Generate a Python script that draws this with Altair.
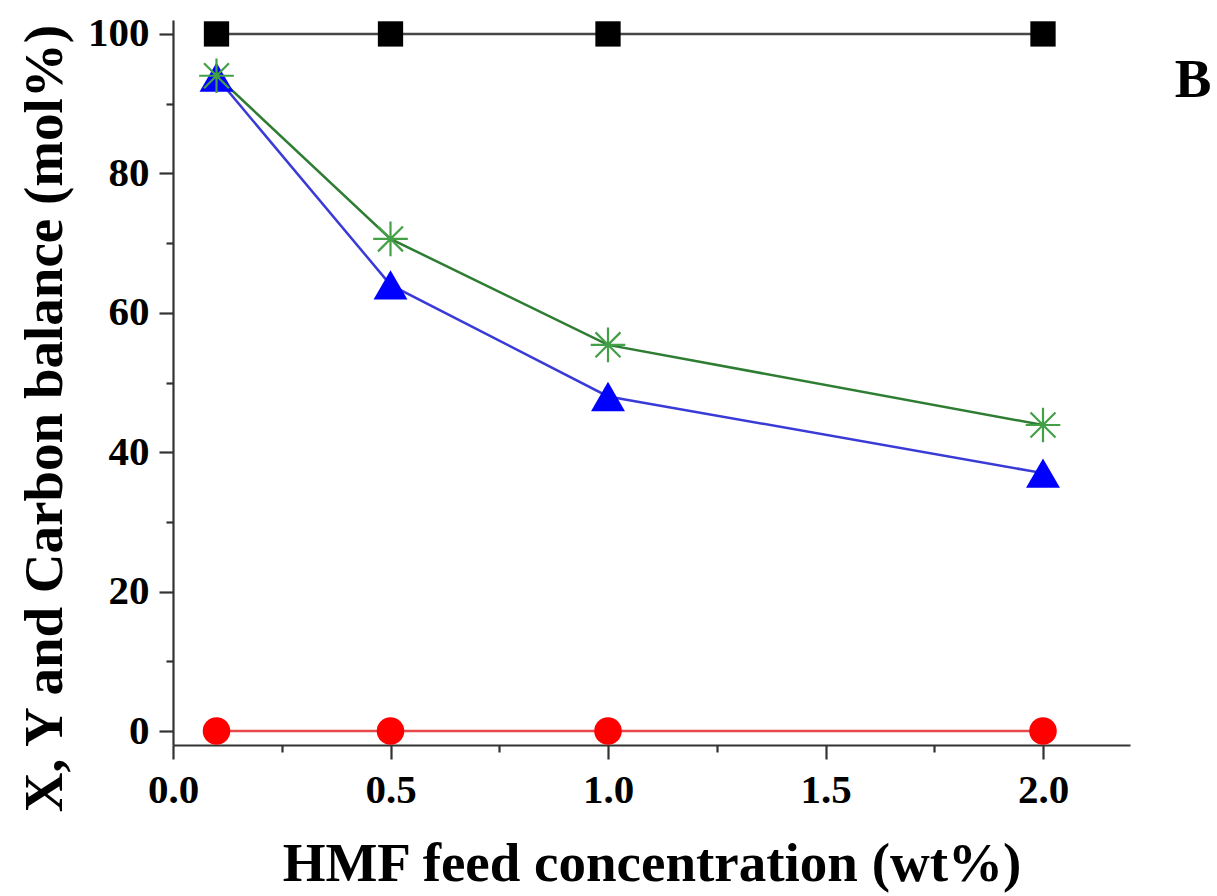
import altair as alt
import pandas as pd

# ---- data ----
feed = [0.1, 0.5, 1.0, 2.0]
carbon_balance = [100, 100, 100, 100]          # black squares
red_series = [0, 0, 0, 0]                      # red circles
blue_series = [93.8, 64.0, 48.0, 37.0]         # blue triangles
green_series = [94.0, 70.6, 55.4, 43.9]        # green asterisks

x_tick_values = [0, 0.25, 0.5, 0.75, 1.0, 1.25, 1.5, 1.75, 2.0]
y_tick_values = [0, 10, 20, 30, 40, 50, 60, 70, 80, 90, 100]

FONT = "Liberation Serif"

def frame(values):
    return pd.DataFrame({"x": feed, "y": values})

x_enc = alt.X(
    "x:Q",
    scale=alt.Scale(domain=[0, 2.2], nice=False, zero=False),
    axis=alt.Axis(
        title="HMF feed concentration (wt%)",
        values=x_tick_values,
        labelExpr="datum.value % 0.5 === 0 ? format(datum.value, '.1f') : ''",
        tickSize={"condition": {"test": "datum.value % 0.5 === 0", "value": 14}, "value": 7},
        labelPadding=11,
        titlePadding=27,
        grid=False,
    ),
)
y_enc = alt.Y(
    "y:Q",
    scale=alt.Scale(domain=[-2, 102], nice=False, zero=False),
    axis=alt.Axis(
        title="X, Y and Carbon balance (mol%)",
        values=y_tick_values,
        labelExpr="datum.value % 20 === 0 ? datum.label : ''",
        tickSize={"condition": {"test": "datum.value % 20 === 0", "value": 14}, "value": 7},
        labelPadding=10,
        titlePadding=14,
        titleY=398,
        grid=False,
    ),
)

def series(values, line_color, point_color, shape, size, filled=True, stroke_width=1):
    base = alt.Chart(frame(values)).encode(x=x_enc, y=y_enc)
    line = base.mark_line(color=line_color, strokeWidth=2.5)
    pts = base.mark_point(
        shape=shape, size=size, filled=filled, color=point_color,
        opacity=1, strokeWidth=stroke_width,
    )
    return line, pts

black_line, black_pts = series(carbon_balance, "#474747", "#000000", "square", 640)
red_line, red_pts = series(red_series, "#e8474a", "#ff0000", "circle", 760)
blue_line, blue_pts = series(blue_series, "#3a3ad6", "#0000ff", "triangle-up", 1150)
asterisk = "M-1,0L1,0M0,-1L0,1M-0.72,-0.72L0.72,0.72M-0.72,0.72L0.72,-0.72"
green_line, green_pts = series(green_series, "#2e7d32", "#43a047", asterisk, 1200,
                               filled=False, stroke_width=2.2)

label_b = alt.Chart(pd.DataFrame({"t": ["B"]})).mark_text(
    font=FONT, fontWeight="bold", fontSize=55, align="center", baseline="middle",
    color="#000000",
).encode(x=alt.value(1020), y=alt.value(60), text="t:N")

chart = alt.layer(
    black_line, red_line, blue_line, green_line,
    black_pts, red_pts, blue_pts, green_pts, label_b,
).properties(
    width=957, height=725,
    autosize=alt.AutoSizeParams(type="none"),
    padding={"left": 173, "top": 20, "right": 87, "bottom": 151},
    background="#ffffff",
).configure_view(stroke=None).configure_axis(
    labelFont=FONT, labelFontWeight="bold", labelFontSize=41, labelColor="#000000",
    titleFont=FONT, titleFontWeight="bold", titleFontSize=55, titleColor="#000000",
    domainColor="#333333", domainWidth=2.2, tickColor="#333333", tickWidth=2.2,
    labelFlush=False, labelOverlap=False,
)

chart.save("out.html", embed_options={"renderer": "svg", "actions": False})
